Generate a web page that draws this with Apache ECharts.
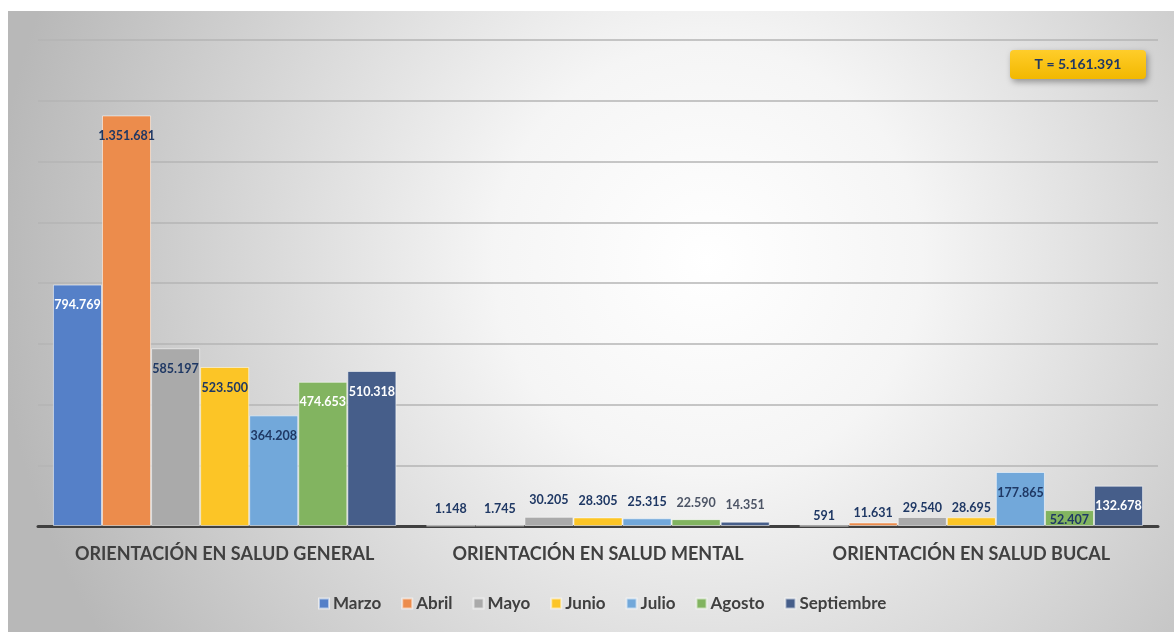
<!DOCTYPE html>
<html>
<head>
<meta charset="utf-8">
<script src="https://cdn.jsdelivr.net/npm/echarts@6/dist/echarts.min.js"></script>
<style>
  html, body { margin: 0; padding: 0; background: #fff; }
  #main { width: 1174px; height: 632px; }
</style>
</head>
<body>
<div id="main"></div>
<script>
    // datos
    var categorias = ['ORIENTACIÓN EN SALUD GENERAL', 'ORIENTACIÓN EN SALUD MENTAL', 'ORIENTACIÓN EN SALUD BUCAL'];
    var meses = ['Marzo', 'Abril', 'Mayo', 'Junio', 'Julio', 'Agosto', 'Septiembre'];
    var marzo = [794769, 1148, 591];
    var abril = [1351681, 1745, 11631];
    var mayo = [585197, 30205, 29540];
    var junio = [523500, 28305, 28695];
    var julio = [364208, 25315, 177865];
    var agosto = [474653, 22590, 52407];
    var septiembre = [510318, 14351, 132678];
    var totalTexto = 'T = 5.161.391';

    var valores = [marzo, abril, mayo, junio, julio, agosto, septiembre];
    var colores = ['#5580c8', '#ec8c4c', '#aaaaaa', '#fcc526', '#72a8da', '#82b460', '#465e8a'];
    var NAVY = '#1f3864', WHITE = '#ffffff', GRIS = '#4d5566';
    // color de etiqueta por serie y categoria
    var colorEtiqueta = [
        [WHITE, NAVY, NAVY],
        [NAVY, NAVY, NAVY],
        [NAVY, NAVY, NAVY],
        [NAVY, NAVY, NAVY],
        [NAVY, NAVY, NAVY],
        [WHITE, GRIS, NAVY],
        [WHITE, GRIS, WHITE]
    ];

    function puntos(v) {
        return String(v).replace(/\B(?=(\d{3})+(?!\d))/g, '.');
    }

    var series = meses.map(function (mes, s) {
        return {
            name: mes,
            type: 'bar',
            color: colores[s],
            barGap: '0%',
            barCategoryGap: '8%',
            itemStyle: { borderColor: 'rgba(255,255,255,0.55)', borderWidth: 1 },
            data: valores[s].map(function (v, c) {
                var pos = 'top', dist = c === 1 ? 10 : 3;
                if (v > 100000) { pos = 'insideTop'; dist = 14; }
                else if (v > 40000) { pos = 'insideTop'; dist = 3; }
                return {
                    value: v,
                    label: {
                        show: true,
                        position: pos,
                        distance: dist,
                        color: colorEtiqueta[s][c],
                        fontFamily: 'Lato',
                        fontWeight: 'bold',
                        fontSize: 12.5,
                        formatter: function (p) { return puntos(p.value); }
                    }
                };
            })
        };
    });

    var myChart = echarts.init(document.getElementById('main'));
    myChart.setOption({
        animation: false,
        textStyle: { fontFamily: 'Lato' },
        graphic: [
            {
                type: 'rect',
                z: -100,
                shape: { x: 8, y: 11, width: 1166, height: 621 },
                style: {
                    fill: new echarts.graphic.RadialGradient(0.6, 0.4, 1.15, [
                        { offset: 0, color: '#ffffff' },
                        { offset: 0.3, color: '#f5f5f5' },
                        { offset: 1, color: '#b8b8b8' }
                    ])
                }
            },
            {
                type: 'rect',
                z: 100,
                shape: { x: 1010, y: 50, width: 136, height: 29, r: 4 },
                style: {
                    fill: new echarts.graphic.LinearGradient(0, 0, 0, 1, [
                        { offset: 0, color: '#ffcd2a' },
                        { offset: 1, color: '#f2b800' }
                    ]),
                    shadowBlur: 6,
                    shadowOffsetX: 2,
                    shadowOffsetY: 3,
                    shadowColor: 'rgba(0,0,0,0.35)'
                }
            },
            {
                type: 'text',
                z: 101,
                x: 1078,
                y: 64.5,
                style: {
                    text: totalTexto,
                    fill: NAVY,
                    font: 'bold 14px Lato',
                    align: 'center',
                    verticalAlign: 'middle'
                }
            }
        ],
        grid: { left: 38, right: 16, top: 40, bottom: 106 },
        legend: {
            bottom: 15,
            left: 313,
            itemWidth: 10,
            itemHeight: 10,
            itemGap: 20,
            icon: 'rect',
            textStyle: { fontFamily: 'Lato', fontWeight: 'bold', fontSize: 17, color: '#404040', padding: [0, 0, 0, -1] },
            data: meses
        },
        xAxis: {
            type: 'category',
            data: categorias,
            axisTick: { show: false },
            axisLine: { lineStyle: { color: '#404040', width: 3 } },
            axisLabel: { interval: 0, hideOverlap: false, margin: 19, fontFamily: 'Lato', fontWeight: 'bold', fontSize: 18, color: '#404040' }
        },
        yAxis: {
            type: 'value',
            min: 0,
            max: 1600000,
            interval: 200000,
            axisLabel: { show: false },
            axisLine: { show: false },
            axisTick: { show: false },
            splitLine: { lineStyle: { color: '#b4b4b4', width: 1.5 } }
        },
        series: series
    });
</script>
</body>
</html>
